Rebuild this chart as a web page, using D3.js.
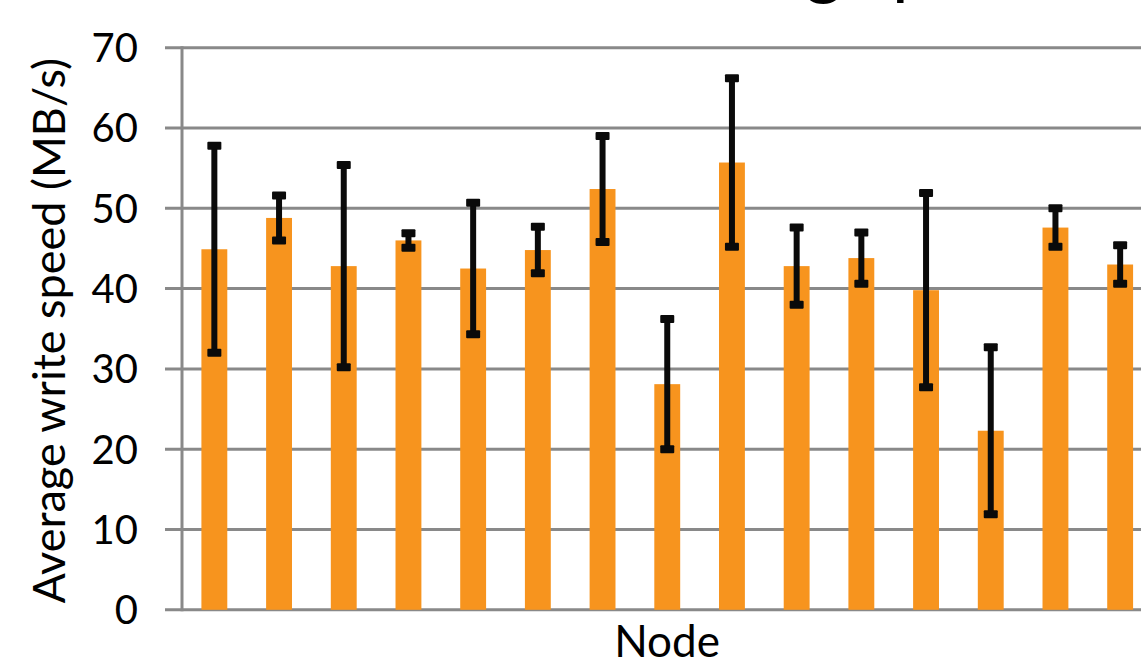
<!DOCTYPE html>
<html>
<head>
<meta charset="utf-8">
<script src="https://cdn.jsdelivr.net/npm/d3@7.9.0/dist/d3.min.js"></script>
<style>
  body { margin: 0; background: #fff; overflow: hidden; }
  svg { display: block; font-family: Lato, "Open Sans", sans-serif; }
</style>
</head>
<body>
<svg id="chart" width="1141" height="662"></svg>
<script>
// node means and error bar half-widths
const nodes = d3.range(1, 16).map(String);
const speeds = [44.9, 48.8, 42.8, 46.0, 42.5, 44.8, 52.4, 28.1, 55.7, 42.8, 43.8, 39.8, 22.3, 47.6, 43.0];
const errors = [12.9, 2.8, 12.6, 0.9, 8.2, 2.9, 6.6, 8.1, 10.5, 4.8, 3.2, 12.1, 10.4, 2.4, 2.4];
const yTicks = [0, 10, 20, 30, 40, 50, 60, 70];

const svg = d3.select('#chart');
const plotLeft = 182, plotRight = 1141, plotTop = 47.7, plotBottom = 609.8;
const step = 64.7;

const x = d3.scaleBand()
  .domain(nodes)
  .range([plotLeft, plotLeft + step * nodes.length])
  .paddingInner(0.6)
  .paddingOuter(0.3);

const y = d3.scaleLinear().domain([0, 70]).range([plotBottom, plotTop]);

// title sits above the view, only its descenders peek in
const title = svg.append('text')
  .attr('x', 0)
  .attr('y', -9)
  .attr('font-size', 72)
  .attr('fill', '#000')
  .text('Writing speed');
const gPos = title.node().getStartPositionOfChar(6).x;
title.attr('x', 805 - gPos);

// gridlines + tick marks
svg.append('g')
  .selectAll('line')
  .data(yTicks)
  .join('line')
  .attr('x1', plotLeft - 17)
  .attr('x2', plotRight)
  .attr('y1', d => y(d))
  .attr('y2', d => y(d))
  .attr('stroke', '#898989')
  .attr('stroke-width', 3);

svg.append('line')
  .attr('x1', plotLeft).attr('x2', plotLeft)
  .attr('y1', y(70) - 1.5).attr('y2', y(0) + 1.5)
  .attr('stroke', '#898989')
  .attr('stroke-width', 3);

svg.append('g')
  .selectAll('text')
  .data(yTicks)
  .join('text')
  .attr('x', 138)
  .attr('y', d => y(d))
  .attr('dy', '0.36em')
  .attr('text-anchor', 'end')
  .attr('font-size', 40)
  .attr('fill', '#000')
  .text(d => d);

// bars
const data = nodes.map((n, i) => ({ node: n, v: speeds[i], e: errors[i] }));

svg.append('g')
  .selectAll('rect')
  .data(data)
  .join('rect')
  .attr('x', d => x(d.node))
  .attr('width', x.bandwidth())
  .attr('y', d => y(d.v))
  .attr('height', d => y(0) - y(d.v))
  .attr('fill', '#f7941e');

// error bars
const err = svg.append('g')
  .selectAll('g')
  .data(data)
  .join('g')
  .attr('transform', d => `translate(${x(d.node) + x.bandwidth() / 2},0)`);

err.append('line')
  .attr('y1', d => y(d.v + d.e))
  .attr('y2', d => y(d.v - d.e))
  .attr('stroke', '#0a0a0a')
  .attr('stroke-width', 6);

err.selectAll('rect')
  .data(d => [d.v + d.e, d.v - d.e])
  .join('rect')
  .attr('x', -7)
  .attr('width', 14)
  .attr('y', d => y(d) - 4)
  .attr('height', 8)
  .attr('rx', 1)
  .attr('fill', '#0a0a0a');

// axis titles
svg.append('text')
  .attr('transform', `translate(65,${(plotTop + plotBottom) / 2 + 2}) rotate(-90)`)
  .attr('text-anchor', 'middle')
  .attr('font-size', 45)
  .attr('fill', '#000')
  .text('Average write speed (MB/s)');

svg.append('text')
  .attr('x', 667)
  .attr('y', 657)
  .attr('text-anchor', 'middle')
  .attr('font-size', 44)
  .attr('fill', '#000')
  .text('Node');
</script>
</body>
</html>
